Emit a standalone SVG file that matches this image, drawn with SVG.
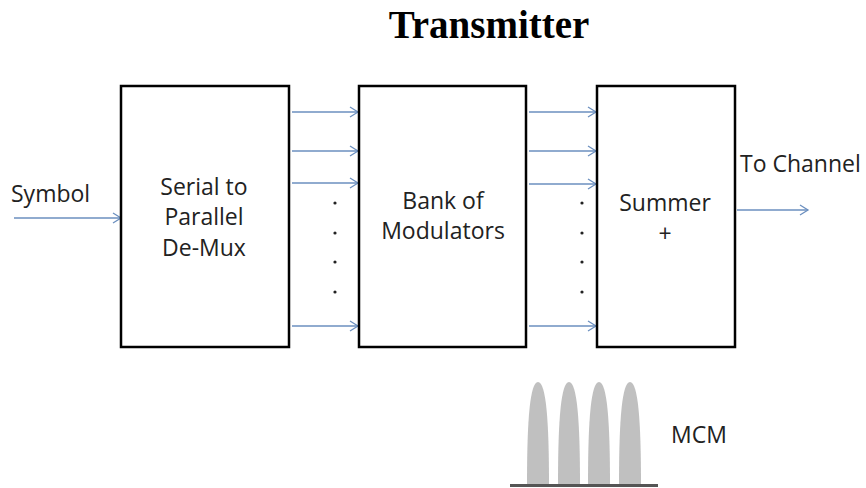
<svg xmlns="http://www.w3.org/2000/svg" width="866" height="488" viewBox="0 0 866 488">
<defs>
<marker id="ah" markerWidth="12" markerHeight="12" refX="10" refY="6" orient="auto" markerUnits="userSpaceOnUse">
<path d="M2,1 L10,6 L2,11" fill="none" stroke="#6b8fbf" stroke-width="1.3"/>
</marker>
<style>
.box{fill:#fff;stroke:#000;stroke-width:2.5}
.lbl{font-family:"Open Sans","Liberation Sans",sans-serif;font-size:23px;fill:#222}
.c{text-anchor:middle}
.arr{stroke:#6b8fbf;stroke-width:1.5;fill:none;marker-end:url(#ah)}
.dot{fill:#222}
.pulse{fill:#c0c0c0}
</style>
</defs>
<rect width="866" height="488" fill="#fff"/>
<text x="489" y="38" text-anchor="middle" font-family="Liberation Serif,serif" font-weight="bold" font-size="39" fill="#000">Transmitter</text>
<g id="connectors">
<line class="arr" x1="14" y1="218" x2="121" y2="218"/>
<line class="arr" x1="292" y1="112" x2="358" y2="112"/>
<line class="arr" x1="292" y1="151" x2="358" y2="151"/>
<line class="arr" x1="292" y1="183" x2="358" y2="183"/>
<line class="arr" x1="292" y1="326" x2="358" y2="326"/>
<line class="arr" x1="529" y1="112" x2="596" y2="112"/>
<line class="arr" x1="529" y1="151" x2="596" y2="151"/>
<line class="arr" x1="529" y1="184" x2="596" y2="184"/>
<line class="arr" x1="529" y1="326" x2="596" y2="326"/>
<line class="arr" x1="737" y1="210" x2="808" y2="210"/>
<circle class="dot" cx="335" cy="203" r="1.6"/>
<circle class="dot" cx="335" cy="233" r="1.6"/>
<circle class="dot" cx="335" cy="262" r="1.6"/>
<circle class="dot" cx="335" cy="292" r="1.6"/>
<circle class="dot" cx="582" cy="203" r="1.6"/>
<circle class="dot" cx="582" cy="233" r="1.6"/>
<circle class="dot" cx="582" cy="262" r="1.6"/>
<circle class="dot" cx="582" cy="292" r="1.6"/>
</g>
<text class="lbl" x="11" y="202">Symbol</text>
<text class="lbl" x="740" y="172">To Channel</text>
<g id="demux">
<rect class="box" x="121" y="86" width="168" height="261"/>
<text class="lbl c" x="204" y="195">Serial to</text>
<text class="lbl c" x="204" y="225">Parallel</text>
<text class="lbl c" x="204" y="256">De-Mux</text>
</g>
<g id="modulators">
<rect class="box" x="359" y="86" width="167" height="261"/>
<text class="lbl c" x="443" y="209">Bank of</text>
<text class="lbl c" x="443" y="239">Modulators</text>
</g>
<g id="summer">
<rect class="box" x="597" y="86" width="138" height="261"/>
<text class="lbl c" x="665" y="211">Summer</text>
<text class="lbl c" x="665" y="242">+</text>
</g>
<g id="mcm">
<path class="pulse" d="M527,484 C527,420 530,382 538,382 C546,382 549,420 549,484 Z"/>
<path class="pulse" d="M558,484 C558,420 561,382 569,382 C577,382 580,420 580,484 Z"/>
<path class="pulse" d="M588,484 C588,420 591,382 599,382 C607,382 610,420 610,484 Z"/>
<path class="pulse" d="M619,484 C619,420 622,382 630,382 C638,382 641,420 641,484 Z"/>
<line x1="510" y1="485.5" x2="658" y2="485.5" stroke="#555" stroke-width="3"/>
<text class="lbl" x="671" y="443" font-size="24">MCM</text>
</g>
</svg>
